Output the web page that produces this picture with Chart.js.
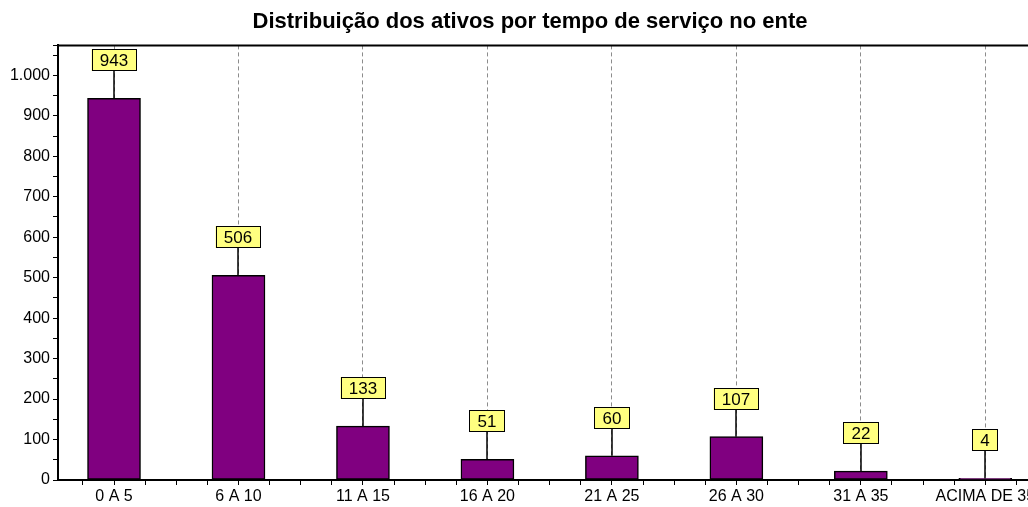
<!DOCTYPE html>
<html>
<head>
<meta charset="utf-8">
<script src="https://cdn.jsdelivr.net/npm/chart.js@4/dist/chart.umd.min.js"></script>
<style>
    html, body { margin: 0; padding: 0; background: #fff; overflow: hidden; }
</style>
</head>
<body>
<canvas id="chart" width="1060" height="507"></canvas>
<script>
// Chart data
const categories = ['0 A 5', '6 A 10', '11 A 15', '16 A 20', '21 A 25', '26 A 30', '31 A 35', 'ACIMA DE 35'];
const ativos = [943, 506, 133, 51, 60, 107, 22, 4];
const chartTitle = 'Distribuição dos ativos por tempo de serviço no ente';

const FONT = '"Liberation Sans", Arial, sans-serif';
const isWhole = (v) => Math.abs(v - Math.round(v)) < 1e-6;

// Draws the top edge of the plot box
const frameBox = {
    id: 'frameBox',
    afterDraw: function(chart) {
        const { ctx, chartArea } = chart;
        ctx.save();
        ctx.strokeStyle = '#000';
        ctx.lineWidth = 2;
        ctx.beginPath();
        ctx.moveTo(chartArea.left, chartArea.top);
        ctx.lineTo(chartArea.right, chartArea.top);
        ctx.stroke();
        ctx.restore();
    }
};

// Yellow value boxes with a leader line down to the bar
const valueBoxes = {
    id: 'valueBoxes',
    afterDatasetsDraw: function(chart) {
        const ctx = chart.ctx;
        const meta = chart.getDatasetMeta(0);
        ctx.save();
        ctx.font = '17px ' + FONT;
        ctx.textAlign = 'center';
        ctx.textBaseline = 'middle';
        meta.data.forEach((bar, i) => {
            const text = String(ativos[i]);
            const w = Math.round(ctx.measureText(text).width) + 17;
            const h = 22;
            const bottom = Math.round(bar.y) - 27;
            const x = Math.round(bar.x);

            ctx.strokeStyle = '#000';
            ctx.lineWidth = 1.5;
            ctx.beginPath();
            ctx.moveTo(x, bar.y);
            ctx.lineTo(x, bottom);
            ctx.stroke();

            ctx.fillStyle = '#ffff80';
            ctx.fillRect(x - w / 2, bottom - h, w, h);
            ctx.lineWidth = 1;
            ctx.strokeRect(Math.round(x - w / 2) + 0.5, bottom - h + 0.5, w - 1, h - 1);

            ctx.fillStyle = '#000';
            ctx.fillText(text, x, bottom - h / 2 + 1);
        });
        ctx.restore();
    }
};

new Chart(document.getElementById('chart'), {
    type: 'bar',
    data: {
        datasets: [{
            data: ativos.map((v, i) => ({ x: i, y: v })),
            backgroundColor: '#800080',
            borderColor: '#000',
            borderWidth: 1.5,
            borderSkipped: false,
            barThickness: 53
        }]
    },
    options: {
        responsive: false,
        animation: false,
        layout: { padding: 0 },
        plugins: {
            legend: { display: false },
            tooltip: { enabled: false },
            title: {
                display: true,
                text: chartTitle,
                color: '#000',
                font: { family: FONT, size: 22, weight: 'bold' },
                padding: { top: 9, bottom: 10 }
            }
        },
        scales: {
            x: {
                type: 'linear',
                bounds: 'data',
                offset: false,
                min: -0.45,
                max: 7.6,
                afterFit: (scale) => { scale.height = 27; },
                // quarter-step ticks: whole numbers carry the category labels
                afterBuildTicks: (scale) => {
                    const ticks = [];
                    for (let q = -1; q <= 30; q++) ticks.push({ value: q / 4 });
                    scale.ticks = ticks;
                },
                ticks: {
                    autoSkip: false,
                    maxRotation: 0,
                    padding: 2,
                    color: '#000',
                    font: { family: FONT, size: 16 },
                    callback: (v) => isWhole(v) ? categories[Math.round(v)] : ''
                },
                grid: {
                    offset: false,
                    color: (c) => (c.tick && isWhole(c.tick.value)) ? '#8c8c8c' : 'rgba(0,0,0,0)',
                    tickColor: '#000',
                    tickLength: 5,
                    tickBorderDash: []
                },
                border: { display: true, color: '#000', width: 2, dash: [4, 3] }
            },
            y: {
                bounds: 'data',
                min: 0,
                max: 1074,
                afterFit: (scale) => { scale.width = 58; },
                ticks: {
                    stepSize: 50,
                    autoSkip: false,
                    includeBounds: false,
                    padding: 3,
                    color: '#000',
                    font: { family: FONT, size: 16 },
                    callback: (v) => v % 100 === 0 ? v.toLocaleString('pt-BR') : ''
                },
                grid: {
                    drawOnChartArea: false,
                    tickColor: '#000',
                    tickLength: 5
                },
                border: { display: true, color: '#000', width: 2 }
            }
        }
    },
    plugins: [frameBox, valueBoxes]
});
</script>
</body>
</html>
